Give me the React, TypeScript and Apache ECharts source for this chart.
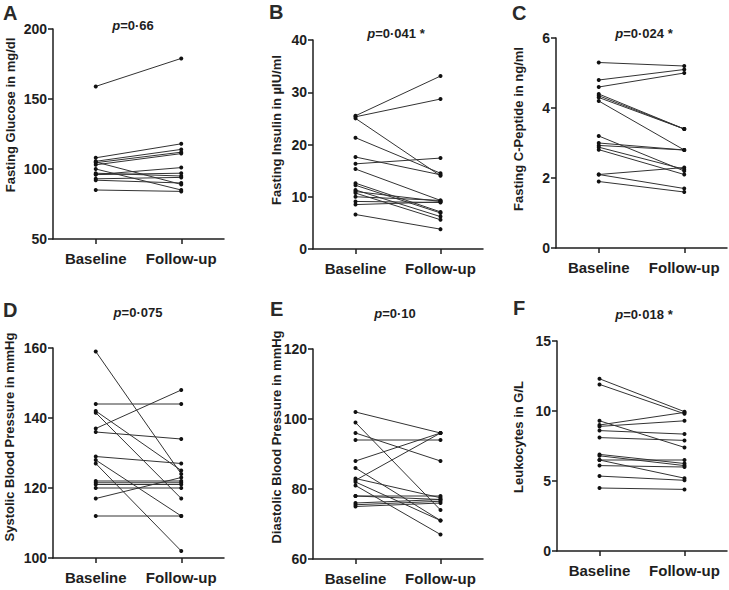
import React, { useEffect, useRef } from "react";
import * as echarts from "echarts";

// ---------- data ----------
const categories = ["Baseline", "Follow-up"];

const glucoseBaseline = [159, 108, 105.5, 104.5, 103, 105, 100, 97, 96, 96, 93, 92, 85];
const glucoseFollowUp = [179, 118, 114, 112, 111, 89, 85, 95, 101, 97, 94, 90, 84];

const insulinBaseline = [25.5, 25.3, 25.0, 21.3, 17.6, 16.3, 15.3, 12.6, 12.2, 11.3, 11.0, 10.7, 10.0, 9.1, 8.5, 6.6];
const insulinFollowUp = [33.1, 28.7, 14.0, 14.5, 14.2, 17.4, 9.3, 7.1, 6.9, 6.2, 9.1, 5.6, 9.3, 8.9, 9.0, 3.8];

const cpeptideBaseline = [5.3, 4.8, 4.6, 4.4, 4.35, 4.3, 4.2, 3.2, 3.0, 2.93, 2.88, 2.81, 2.1, 2.1, 1.9];
const cpeptideFollowUp = [5.2, 5.1, 5.0, 3.4, 3.4, 3.4, 2.8, 2.2, 2.8, 2.8, 2.25, 2.1, 2.3, 1.7, 1.6];

const systolicBaseline = [159, 144, 142, 141.5, 137, 136, 129, 128, 127, 122, 121.5, 121, 120, 117, 112];
const systolicFollowUp = [124, 144, 125, 117, 148, 134, 127, 112, 102, 122, 121.5, 121, 120, 123, 112];

const diastolicBaseline = [102, 99, 96, 94, 88, 86, 83, 82.5, 82, 81, 78, 78, 76, 75.5, 75];
const diastolicFollowUp = [96, 74, 88, 94, 96, 71, 77.5, 96, 71, 67, 78, 77, 77, 76.5, 76];

const leukocyteBaseline = [12.3, 11.9, 9.3, 9.0, 8.9, 8.6, 8.1, 6.9, 6.8, 6.5, 6.5, 6.1, 5.35, 4.5];
const leukocyteFollowUp = [9.95, 9.8, 7.4, 9.9, 9.3, 8.35, 7.9, 6.25, 6.1, 6.5, 5.2, 6.0, 5.05, 4.4];

const panelLetters = ["A", "B", "C", "D", "E", "F"];
const pValues = ["=0·66", "=0·041 *", "=0·024 *", "=0·075", "=0·10", "=0·018 *"];
const yAxisNames = [
  "Fasting Glucose in mg/dl",
  "Fasting Insulin in µIU/ml",
  "Fasting C-Peptide in ng/ml",
  "Systolic Blood Pressure in mmHg",
  "Diastolic Blood Pressure in mmHg",
  "Leukocytes in G/L",
];
const yMins = [50, 0, 0, 100, 60, 0];
const yMaxs = [200, 40, 6, 160, 120, 15];
const yIntervals = [50, 10, 2, 20, 20, 5];

const baselineSets = [glucoseBaseline, insulinBaseline, cpeptideBaseline, systolicBaseline, diastolicBaseline, leukocyteBaseline];
const followUpSets = [glucoseFollowUp, insulinFollowUp, cpeptideFollowUp, systolicFollowUp, diastolicFollowUp, leukocyteFollowUp];

// ---------- layout ----------
const layout = [
  { left: 53, top: 29, width: 171, height: 210, letter: [3, 3], p: [133, 25], name: [10, 115] },
  { left: 313, top: 40, width: 170, height: 209, letter: [269, 2], p: [396, 33], name: [276, 130] },
  { left: 556, top: 38, width: 171, height: 210, letter: [512, 3], p: [644, 33], name: [518, 129] },
  { left: 53, top: 348, width: 171, height: 210, letter: [3, 300], p: [138, 312], name: [9, 437] },
  { left: 313, top: 349, width: 170, height: 210, letter: [270, 299], p: [395, 313], name: [276, 437] },
  { left: 557, top: 341, width: 170, height: 210, letter: [513, 298], p: [644, 314], name: [518, 437] },
];

const FONT = '"Liberation Sans", Arial, Helvetica, sans-serif';
const INK = "#1e1e1e";

export default function App() {
  const ref = useRef<HTMLDivElement>(null);

  useEffect(() => {
    if (!ref.current) return;
    const chart = echarts.init(ref.current, undefined, { renderer: "svg" });

    const grids: any[] = [];
    const xAxes: any[] = [];
    const yAxes: any[] = [];
    const series: any[] = [];
    const graphics: any[] = [];

    layout.forEach((L, p) => {
      grids.push({ left: L.left, top: L.top, width: L.width, height: L.height, containLabel: false });
      xAxes.push({
        type: "category",
        gridIndex: p,
        data: categories,
        boundaryGap: true,
        axisLine: { show: true, onZero: false, lineStyle: { color: INK, width: 1.5 } },
        axisTick: { show: true, alignWithLabel: true, interval: 0, length: 5, lineStyle: { color: INK, width: 1.5 } },
        axisLabel: { color: INK, fontFamily: FONT, fontWeight: "bold", fontSize: 15, margin: 12, interval: 0, hideOverlap: false },
        splitLine: { show: false },
      });
      yAxes.push({
        type: "value",
        gridIndex: p,
        min: yMins[p],
        max: yMaxs[p],
        interval: yIntervals[p],
        axisLine: { show: true, onZero: false, lineStyle: { color: INK, width: 1.5 } },
        axisTick: { show: true, length: 5, lineStyle: { color: INK, width: 1.5 } },
        axisLabel: { color: INK, fontFamily: FONT, fontWeight: "bold", fontSize: 14, margin: 6 },
        splitLine: { show: false },
      });

      const b = baselineSets[p];
      const f = followUpSets[p];
      for (let i = 0; i < b.length; i++) {
        series.push({
          type: "line",
          xAxisIndex: p,
          yAxisIndex: p,
          data: [b[i], f[i]],
          symbol: "circle",
          symbolSize: 4,
          showSymbol: true,
          lineStyle: { color: "#333", width: 1 },
          itemStyle: { color: "#111" },
          emphasis: { disabled: true },
          silent: true,
        });
      }

      graphics.push({
        type: "text",
        x: L.letter[0],
        y: L.letter[1],
        style: { text: panelLetters[p], font: `bold 20px ${FONT}`, fill: "#2a2a2a", textAlign: "left", textVerticalAlign: "top" },
      });
      graphics.push({
        type: "text",
        x: L.p[0],
        y: L.p[1],
        style: {
          text: `{i|p}{n|${pValues[p]}}`,
          textAlign: "center",
          textVerticalAlign: "middle",
          rich: {
            i: { fontStyle: "italic", fontWeight: "bold", fontSize: 13, fontFamily: FONT, fill: INK },
            n: { fontWeight: "bold", fontSize: 13, fontFamily: FONT, fill: INK },
          },
        },
      });
      graphics.push({
        type: "text",
        x: L.name[0],
        y: L.name[1],
        rotation: Math.PI / 2,
        style: { text: yAxisNames[p], font: `bold 13px ${FONT}`, fill: INK, textAlign: "center", textVerticalAlign: "middle" },
      });
    });

    chart.setOption({
      animation: false,
      backgroundColor: "#ffffff",
      grid: grids,
      xAxis: xAxes,
      yAxis: yAxes,
      series,
      graphic: graphics,
    });

    return () => chart.dispose();
  }, []);

  return <div ref={ref} style={{ position: "fixed", left: 0, top: 0, width: 729, height: 590 }} />;
}
